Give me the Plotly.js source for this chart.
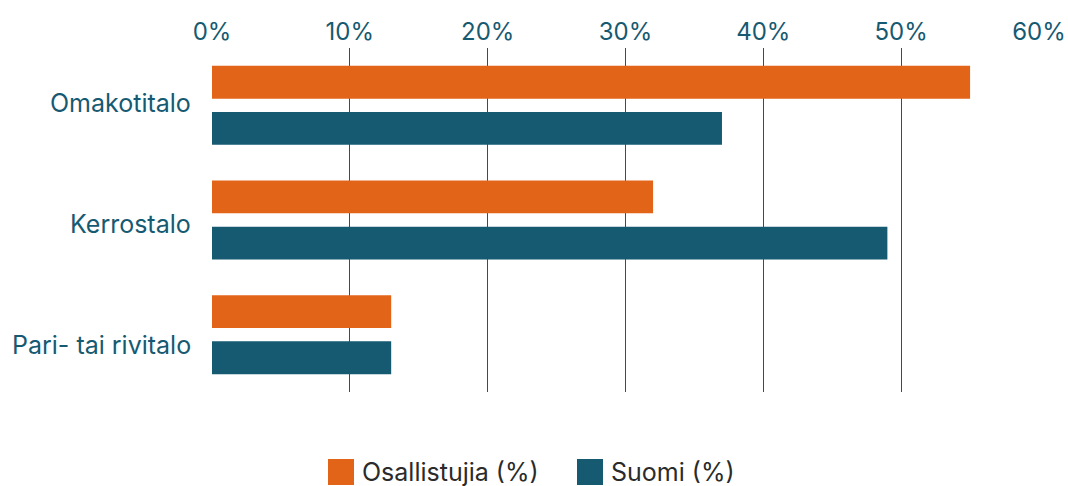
<!DOCTYPE html>
<html>
<head>
<meta charset="utf-8">
<script src="https://cdn.plot.ly/plotly-3.0.1.min.js"></script>
<style>html,body{margin:0;padding:0;background:#fff;}#chart{width:1068px;height:486px;}</style>
</head>
<body>
<div id="chart"></div>
<script>
const categories = ["Omakotitalo", "Kerrostalo", "Pari- tai rivitalo"];
const seriesNames = ["Osallistujia (%)", "Suomi (%)"];
const osallistujia = [55, 32, 13];
const suomi = [37, 49, 13];
const xTicks = [0, 10, 20, 30, 40, 50, 60];
const xTickLabels = ["0%", "10%", "20%", "30%", "40%", "50%", "60%"];

const ORANGE = "#e26418";
const BLUE = "#165a72";
const TEXT = "#165a72";
const FONT = "Inter, sans-serif";

const traces = [
  {type: "bar", orientation: "h", name: seriesNames[0], y: categories, x: osallistujia, marker: {color: ORANGE}},
  {type: "bar", orientation: "h", name: seriesNames[1], y: categories, x: suomi, marker: {color: BLUE}}
];

const L = 212, R = 29, T = 48, B = 94, W = 1068, H = 486;
const pw = W - L - R, ph = H - T - B;
const px = v => (v - L) / pw;
const py = v => (H - B - v) / ph;

// legend built with shapes + annotations to match the large square swatches
const legendItems = [
  {sx: 328, tx: 360, color: ORANGE, text: seriesNames[0]},
  {sx: 577, tx: 609, color: BLUE, text: seriesNames[1]}
];
const shapes = legendItems.map(it => ({
  type: "rect", xref: "paper", yref: "paper",
  x0: px(it.sx), x1: px(it.sx + 26), y0: py(459), y1: py(485),
  fillcolor: it.color, line: {width: 0}
}));
const annotations = legendItems.map(it => ({
  xref: "paper", yref: "paper", x: px(it.tx), y: py(472),
  xanchor: "left", yanchor: "middle", showarrow: false,
  text: it.text, font: {family: FONT, size: 25, color: "#2b2b2b"}
}));

// category labels (slight vertical nudges as in the original)
const labelNudge = [2.5, -4, -10];
categories.forEach((c, i) => annotations.push({
  xref: "paper", yref: "y", x: 0, y: c, xanchor: "right", yanchor: "middle",
  xshift: -19, yshift: labelNudge[i], showarrow: false, text: c,
  font: {family: FONT, size: 25, color: TEXT}
}));

const layout = {
  width: W, height: H,
  margin: {l: L, r: R, t: T, b: B, pad: 0},
  paper_bgcolor: "#fff", plot_bgcolor: "#fff",
  showlegend: false,
  barmode: "group",
  bargap: 0.195,
  bargroupgap: 0.288,
  font: {family: FONT, size: 24, color: TEXT},
  xaxis: {
    side: "top", range: [0, 60], tickvals: xTicks, ticktext: xTickLabels,
    showgrid: true, gridcolor: BLUE, gridwidth: 1,
    zeroline: false, showline: false, ticks: "", ticklabelstandoff: 2,
    tickfont: {family: FONT, size: 24, color: TEXT},
    fixedrange: true
  },
  yaxis: {
    autorange: "reversed", showgrid: false, zeroline: false, showline: false,
    ticks: "", showticklabels: false,
    fixedrange: true
  },
  shapes: shapes,
  annotations: annotations
};

Plotly.newPlot("chart", traces, layout, {displayModeBar: false, staticPlot: true});
</script>
</body>
</html>
